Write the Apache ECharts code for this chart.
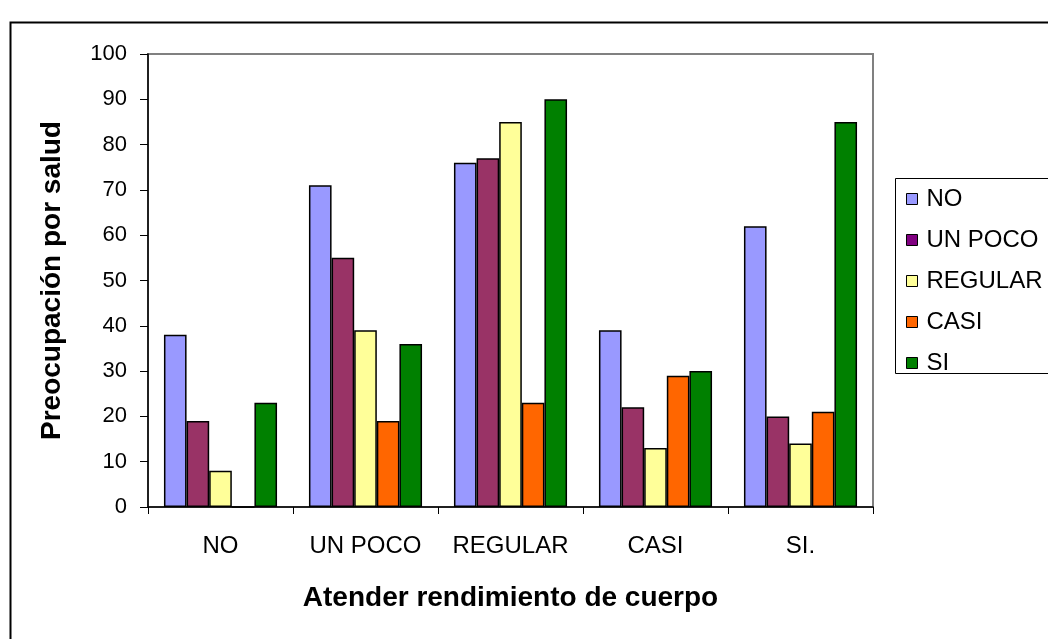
<!DOCTYPE html>
<html>
<head>
<meta charset="utf-8">
<script src="https://cdn.jsdelivr.net/npm/echarts@6/dist/echarts.min.js"></script>
<style>
  html, body { margin: 0; padding: 0; background: #fff; }
  #chart { width: 1048px; height: 639px; }
</style>
</head>
<body>
<div id="chart"></div>
<script>
// Groups on the x axis
const categories = ['NO', 'UN POCO', 'REGULAR', 'CASI', 'SI.'];

// One series per answer level
const seriesNames = ['NO', 'UN POCO', 'REGULAR', 'CASI', 'SI'];
const valuesNo = [38, 71, 76, 39, 62];
const valuesUnPoco = [19, 55, 77, 22, 20];
const valuesRegular = [8, 39, 85, 13, 14];
const valuesCasi = [0, 19, 23, 29, 21];
const valuesSi = [23, 36, 90, 30, 85];

// Y axis range
const yMin = 0;
const yMax = 100;
const yStep = 10;

const barColors = ['#9999FF', '#993366', '#FFFF99', '#FF6600', '#008000'];
const legendColors = ['#9999FF', '#800080', '#FFFF99', '#FF6600', '#008000'];
const seriesValues = [valuesNo, valuesUnPoco, valuesRegular, valuesCasi, valuesSi];

const FONT = '"Liberation Sans", Arial, sans-serif';

const chart = echarts.init(document.getElementById('chart'), null, { renderer: 'canvas' });

chart.setOption({
  backgroundColor: '#ffffff',
  animation: false,
  textStyle: { fontFamily: FONT, color: '#000' },
  graphic: [
    {
      type: 'rect',
      left: 8, top: 20,
      shape: { width: 2000, height: 2000 },
      style: { fill: 'none', stroke: '#000', lineWidth: 2 },
      silent: true, z: 0
    },
    {
      type: 'rect',
      left: 895, top: 178,
      shape: { width: 400, height: 195 },
      style: { fill: '#fff', stroke: '#000', lineWidth: 1 },
      silent: true, z: 1
    }
  ],
  grid: {
    left: 148, right: 175, top: 54, bottom: 132,
    show: true,
    borderColor: '#808080',
    borderWidth: 2,
    backgroundColor: 'transparent'
  },
  legend: {
    left: 906, top: 187,
    orient: 'vertical',
    padding: 0,
    itemGap: 17,
    itemWidth: 11, itemHeight: 11,
    icon: 'rect',
    z: 5,
    itemStyle: { borderColor: '#000', borderWidth: 1 },
    textStyle: { fontFamily: FONT, fontSize: 24, color: '#000', padding: [0, 0, 0, 4] },
    data: seriesNames.map((n, i) => ({ name: n, itemStyle: { color: legendColors[i], borderColor: '#000', borderWidth: 1 } }))
  },
  xAxis: {
    type: 'category',
    data: categories,
    name: 'Atender rendimiento de cuerpo',
    nameLocation: 'middle',
    nameGap: 77,
    nameTextStyle: { fontFamily: FONT, fontSize: 28, fontWeight: 'bold', color: '#000' },
    axisLine: { lineStyle: { color: '#000', width: 1.5 } },
    axisTick: { show: true, length: 7, lineStyle: { color: '#000', width: 1 } },
    axisLabel: { fontFamily: FONT, fontSize: 24, color: '#000', margin: 27, interval: 0 },
    splitLine: { show: false }
  },
  yAxis: {
    type: 'value',
    min: yMin, max: yMax, interval: yStep,
    name: 'Preocupación por salud',
    nameLocation: 'middle',
    nameRotate: 90,
    nameGap: 82,
    nameTextStyle: { fontFamily: FONT, fontSize: 28, fontWeight: 'bold', color: '#000' },
    axisLine: { show: true, lineStyle: { color: '#000', width: 1.5 } },
    axisTick: { show: true, length: 8, lineStyle: { color: '#000', width: 1 } },
    axisLabel: { fontFamily: FONT, fontSize: 22, color: '#000', margin: 21 },
    splitLine: { show: false }
  },
  series: seriesNames.map((n, i) => ({
    name: n,
    type: 'bar',
    data: seriesValues[i],
    barGap: '0%',
    barCategoryGap: '22%',
    itemStyle: { color: barColors[i], borderColor: '#000', borderWidth: 1.5 },
    emphasis: { disabled: true }
  }))
});
</script>
</body>
</html>
